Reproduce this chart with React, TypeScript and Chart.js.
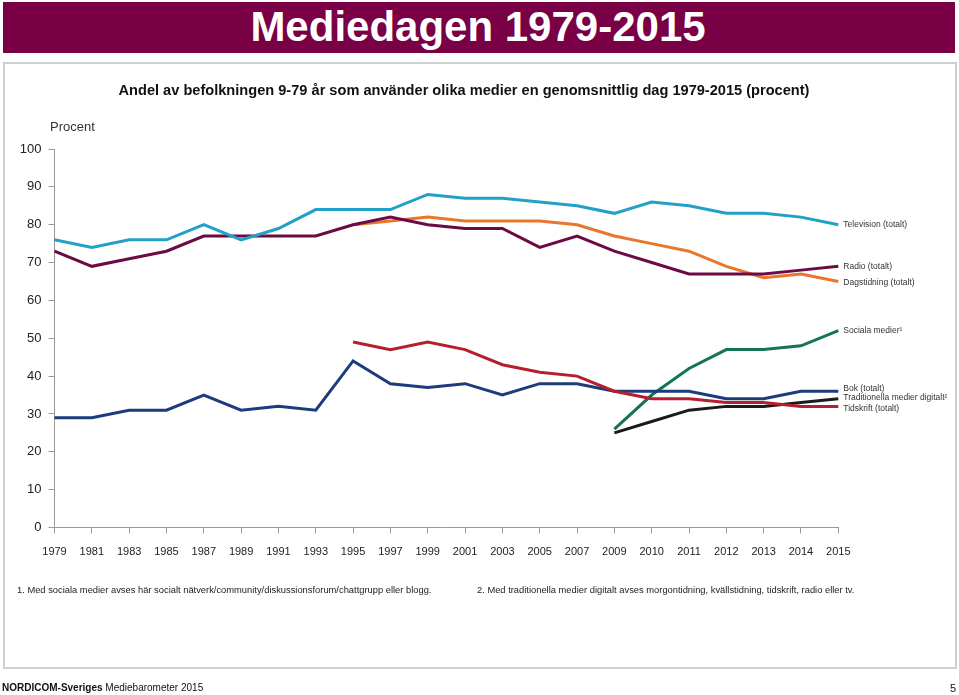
import React, { useEffect, useRef } from "react";
import { Chart, registerables } from "chart.js";

Chart.register(...registerables);

const years = ["1979","1981","1983","1985","1987","1989","1991","1993","1995","1997","1999","2001","2003","2005","2007","2009","2010","2011","2012","2013","2014","2015"];

const television = [76,74,76,76,80,76,79,84,84,84,88,87,87,86,85,83,86,85,83,83,82,80];
const radio = [73,69,71,73,77,77,77,77,80,82,80,79,79,74,77,73,70,67,67,67,68,69];
const dagstidning = [null,null,null,null,null,null,null,null,80,81,82,81,81,81,80,77,75,73,69,66,67,65];
const tidskrift = [null,null,null,null,null,null,null,null,49,47,49,47,43,41,40,36,34,34,33,33,32,32];
const bok = [29,29,31,31,35,31,32,31,44,38,37,38,35,38,38,36,36,36,34,34,36,36];
const socialaMedier = [null,null,null,null,null,null,null,null,null,null,null,null,null,null,null,26,35,42,47,47,48,52];
const tradDigitalt = [null,null,null,null,null,null,null,null,null,null,null,null,null,null,null,25,28,31,32,32,33,34];

const seriesNames = ["Television (totalt)","Radio (totalt)","Dagstidning (totalt)","Tidskrift (totalt)","Bok (totalt)","Sociala medier\u00B9","Traditionella medier digitalt\u00B2"];
const seriesColors = ["#22a0c8","#6c0a45","#e8762c","#b41f2e","#1c3c7c","#157452","#1a1a1a"];
const labelNudge = [0,0,1.5,2,-3,0,-1];

const endLabels = {
  id: "endLabels",
  afterDatasetsDraw(chart: any) {
    const ctx = chart.ctx;
    ctx.save();
    ctx.font = "8.5px 'Liberation Sans', Arial, sans-serif";
    ctx.fillStyle = "#333";
    ctx.textBaseline = "middle";
    ctx.textAlign = "left";
    chart.data.datasets.forEach((ds: any, i: number) => {
      const meta = chart.getDatasetMeta(i);
      const pts = meta.data;
      const last = pts[pts.length - 1];
      if (!last) return;
      ctx.fillText(seriesNames[i], last.x + 5, last.y + labelNudge[i]);
    });
    ctx.restore();
  },
};

export default function App() {
  const ref = useRef<HTMLCanvasElement>(null);
  useEffect(() => {
    const allData = [television, radio, dagstidning, tidskrift, bok, socialaMedier, tradDigitalt];
    const chart = new Chart(ref.current as HTMLCanvasElement, {
      type: "line",
      data: {
        labels: years,
        datasets: allData.map((d, i) => ({
          label: seriesNames[i],
          data: d,
          borderColor: seriesColors[i],
          backgroundColor: seriesColors[i],
          borderWidth: 3,
          pointRadius: 0,
          tension: 0,
          fill: false,
        })),
      },
      options: {
        animation: false,
        responsive: false,
        devicePixelRatio: 1,
        layout: { padding: { left: 10.5, top: 149, right: 120.7, bottom: 127.5 } },
        plugins: { legend: { display: false }, tooltip: { enabled: false }, title: { display: false } },
        scales: {
          x: {
            offset: false,
            afterFit: (s: any) => { s.height = 40; },
            grid: { drawOnChartArea: false, drawTicks: true, tickLength: 6, color: "#9a9a9a" },
            border: { color: "#9a9a9a", width: 1 },
            ticks: { color: "#222", font: { size: 11, family: "'Liberation Sans', Arial, sans-serif" }, maxRotation: 0, autoSkip: false, padding: 12 },
          },
          y: {
            min: 0,
            max: 100,
            afterFit: (s: any) => { s.width = 44; },
            grid: { drawOnChartArea: false, drawTicks: true, tickLength: 6, color: "#9a9a9a" },
            border: { color: "#9a9a9a", width: 1 },
            ticks: { stepSize: 10, color: "#222", font: { size: 13, family: "'Liberation Sans', Arial, sans-serif" }, padding: 7 },
          },
        },
      },
      plugins: [endLabels],
    });
    return () => chart.destroy();
  }, []);

  const ff = "'Liberation Sans', Arial, Helvetica, sans-serif";
  return (
    <div style={{ position: "absolute", left: 0, top: 0, width: 959, height: 695, background: "#fff", fontFamily: ff, overflow: "hidden" }}>
      <div style={{ position: "absolute", left: 3, top: 2, width: 952, height: 51, background: "#7a0046" }} />
      <div style={{ position: "absolute", left: 0, top: 3, width: 956, textAlign: "center", color: "#fff", fontWeight: "bold", fontSize: 42, lineHeight: "48px" }}>Mediedagen 1979-2015</div>
      <div style={{ position: "absolute", left: 3, top: 62, width: 950, height: 603, border: "2px solid #cfcfcf" }} />
      <canvas ref={ref} width={959} height={695} style={{ position: "absolute", left: 0, top: 0, width: 959, height: 695 }} />
      <div style={{ position: "absolute", left: 0, top: 80, width: 928, textAlign: "center", color: "#111", fontWeight: "bold", fontSize: 14.6, lineHeight: "20px" }}>Andel av befolkningen 9-79 år som använder olika medier en genomsnittlig dag 1979-2015 (procent)</div>
      <div style={{ position: "absolute", left: 50, top: 119, color: "#333", fontSize: 13, lineHeight: "16px" }}>Procent</div>
      <div style={{ position: "absolute", left: 17, top: 584, color: "#222", fontSize: 9.35, lineHeight: "12px", whiteSpace: "nowrap" }}>1. Med sociala medier avses här socialt nätverk/community/diskussionsforum/chattgrupp eller blogg.</div>
      <div style={{ position: "absolute", left: 477, top: 584, color: "#222", fontSize: 9.35, lineHeight: "12px", whiteSpace: "nowrap" }}>2. Med traditionella medier digitalt avses morgontidning, kvällstidning, tidskrift, radio eller tv.</div>
      <div style={{ position: "absolute", left: 2, top: 681, color: "#111", fontSize: 10, lineHeight: "14px", whiteSpace: "nowrap" }}><span style={{ fontWeight: "bold" }}>NORDICOM-Sveriges</span> Mediebarometer 2015</div>
      <div style={{ position: "absolute", left: 950, top: 681, color: "#111", fontSize: 11, lineHeight: "14px" }}>5</div>
    </div>
  );
}
